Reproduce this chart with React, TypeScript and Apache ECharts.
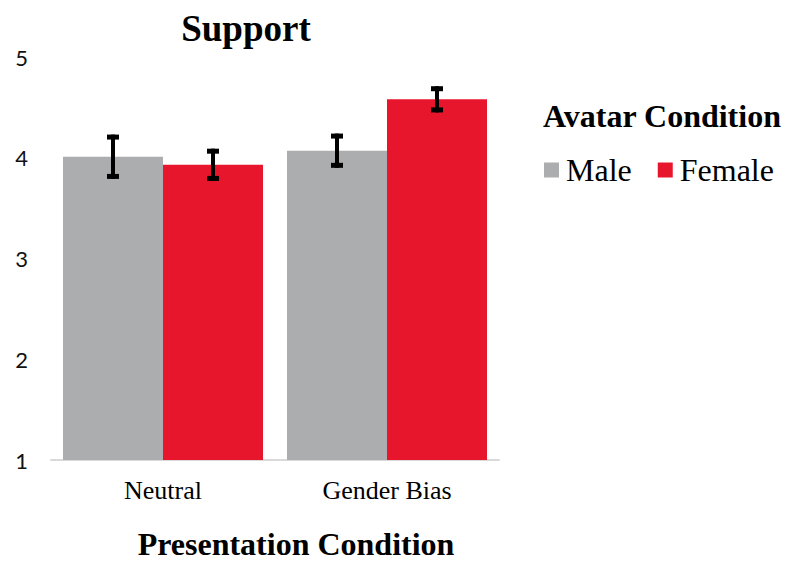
import React, { useEffect, useRef } from "react";
import * as echarts from "echarts";

const categories = ["Neutral", "Gender Bias"];
const seriesNames = ["Male", "Female"];
const maleMeans = [4.01, 4.07];
const femaleMeans = [3.93, 4.58];
const maleErr = [0.22, 0.17];
const femaleErr = [0.16, 0.13];
const yTicks = [1, 2, 3, 4, 5];

const SERIF = "'Liberation Serif', 'Times New Roman', serif";
const SANS = "Lato, 'Open Sans', sans-serif";
const BAR_W = 100;

export default function App() {
  const ref = useRef<HTMLDivElement>(null);
  useEffect(() => {
    if (!ref.current) return;
    const chart = echarts.init(ref.current, null, { renderer: "svg" });
    const errData = (means: number[], errs: number[]) =>
      means.map((m, i) => [i, m - errs[i], m + errs[i]]);
    const makeErr = (offset: number) => (params: any, api: any) => {
      const lo = api.coord([api.value(0), api.value(1)]);
      const hi = api.coord([api.value(0), api.value(2)]);
      const x = lo[0] + offset;
      const capW = 12;
      const capH = 5;
      return {
        type: "group",
        children: [
          {
            type: "line",
            shape: { x1: x, y1: hi[1], x2: x, y2: lo[1] },
            style: { stroke: "#000", lineWidth: 4 },
          },
          {
            type: "rect",
            shape: { x: x - capW / 2, y: hi[1], width: capW, height: capH },
            style: { fill: "#000" },
          },
          {
            type: "rect",
            shape: { x: x - capW / 2, y: lo[1] - capH, width: capW, height: capH },
            style: { fill: "#000" },
          },
        ],
      };
    };
    chart.setOption({
      animation: false,
      grid: { left: 51, right: 288, top: 57, bottom: 101 },
      legend: {
        data: seriesNames,
        left: 544,
        top: 154,
        padding: 0,
        icon: "rect",
        itemWidth: 15,
        itemHeight: 15,
        itemGap: 26,
        textStyle: { fontFamily: SERIF, fontSize: 32, color: "#000", padding: [0, 0, 0, 2] },
      },
      xAxis: {
        type: "category",
        data: categories,
        axisLine: { lineStyle: { color: "#d9d9d9", width: 2 } },
        axisTick: { show: false },
        axisLabel: { fontFamily: SERIF, fontSize: 26, color: "#000", margin: 17 },
      },
      yAxis: {
        type: "value",
        min: yTicks[0],
        max: yTicks[yTicks.length - 1],
        interval: 1,
        splitLine: { show: false },
        axisLine: { show: false },
        axisTick: { show: false },
        axisLabel: { fontFamily: SANS, fontSize: 22, color: "#111", margin: 23 },
      },
      series: [
        {
          name: seriesNames[0],
          type: "bar",
          data: maleMeans,
          barWidth: BAR_W,
          barGap: "0%",
          itemStyle: { color: "#acadaf" },
        },
        {
          name: seriesNames[1],
          type: "bar",
          data: femaleMeans,
          barWidth: BAR_W,
          barGap: "0%",
          itemStyle: { color: "#e8162c" },
        },
        {
          type: "custom",
          name: "maleErr",
          data: errData(maleMeans, maleErr),
          renderItem: makeErr(-BAR_W / 2),
          z: 10,
          encode: { x: 0, y: [1, 2] },
        },
        {
          type: "custom",
          name: "femaleErr",
          data: errData(femaleMeans, femaleErr),
          renderItem: makeErr(BAR_W / 2),
          z: 10,
          encode: { x: 0, y: [1, 2] },
        },
      ],
      graphic: [
        {
          type: "text",
          x: 246,
          y: 28,
          style: {
            text: "Support",
            fontFamily: SERIF,
            fontWeight: "bold",
            fontSize: 37,
            fill: "#000",
            align: "center",
            verticalAlign: "middle",
          },
        },
        {
          type: "text",
          x: 543,
          y: 116,
          style: {
            text: "Avatar Condition",
            fontFamily: SERIF,
            fontWeight: "bold",
            fontSize: 32,
            fill: "#000",
            align: "left",
            verticalAlign: "middle",
          },
        },
        {
          type: "text",
          x: 296,
          y: 544,
          style: {
            text: "Presentation Condition",
            fontFamily: SERIF,
            fontWeight: "bold",
            fontSize: 32,
            fill: "#000",
            align: "center",
            verticalAlign: "middle",
          },
        },
      ],
    });
    return () => chart.dispose();
  }, []);
  return <div ref={ref} style={{ width: 787, height: 561, position: "absolute", left: 0, top: 0 }} />;
}
